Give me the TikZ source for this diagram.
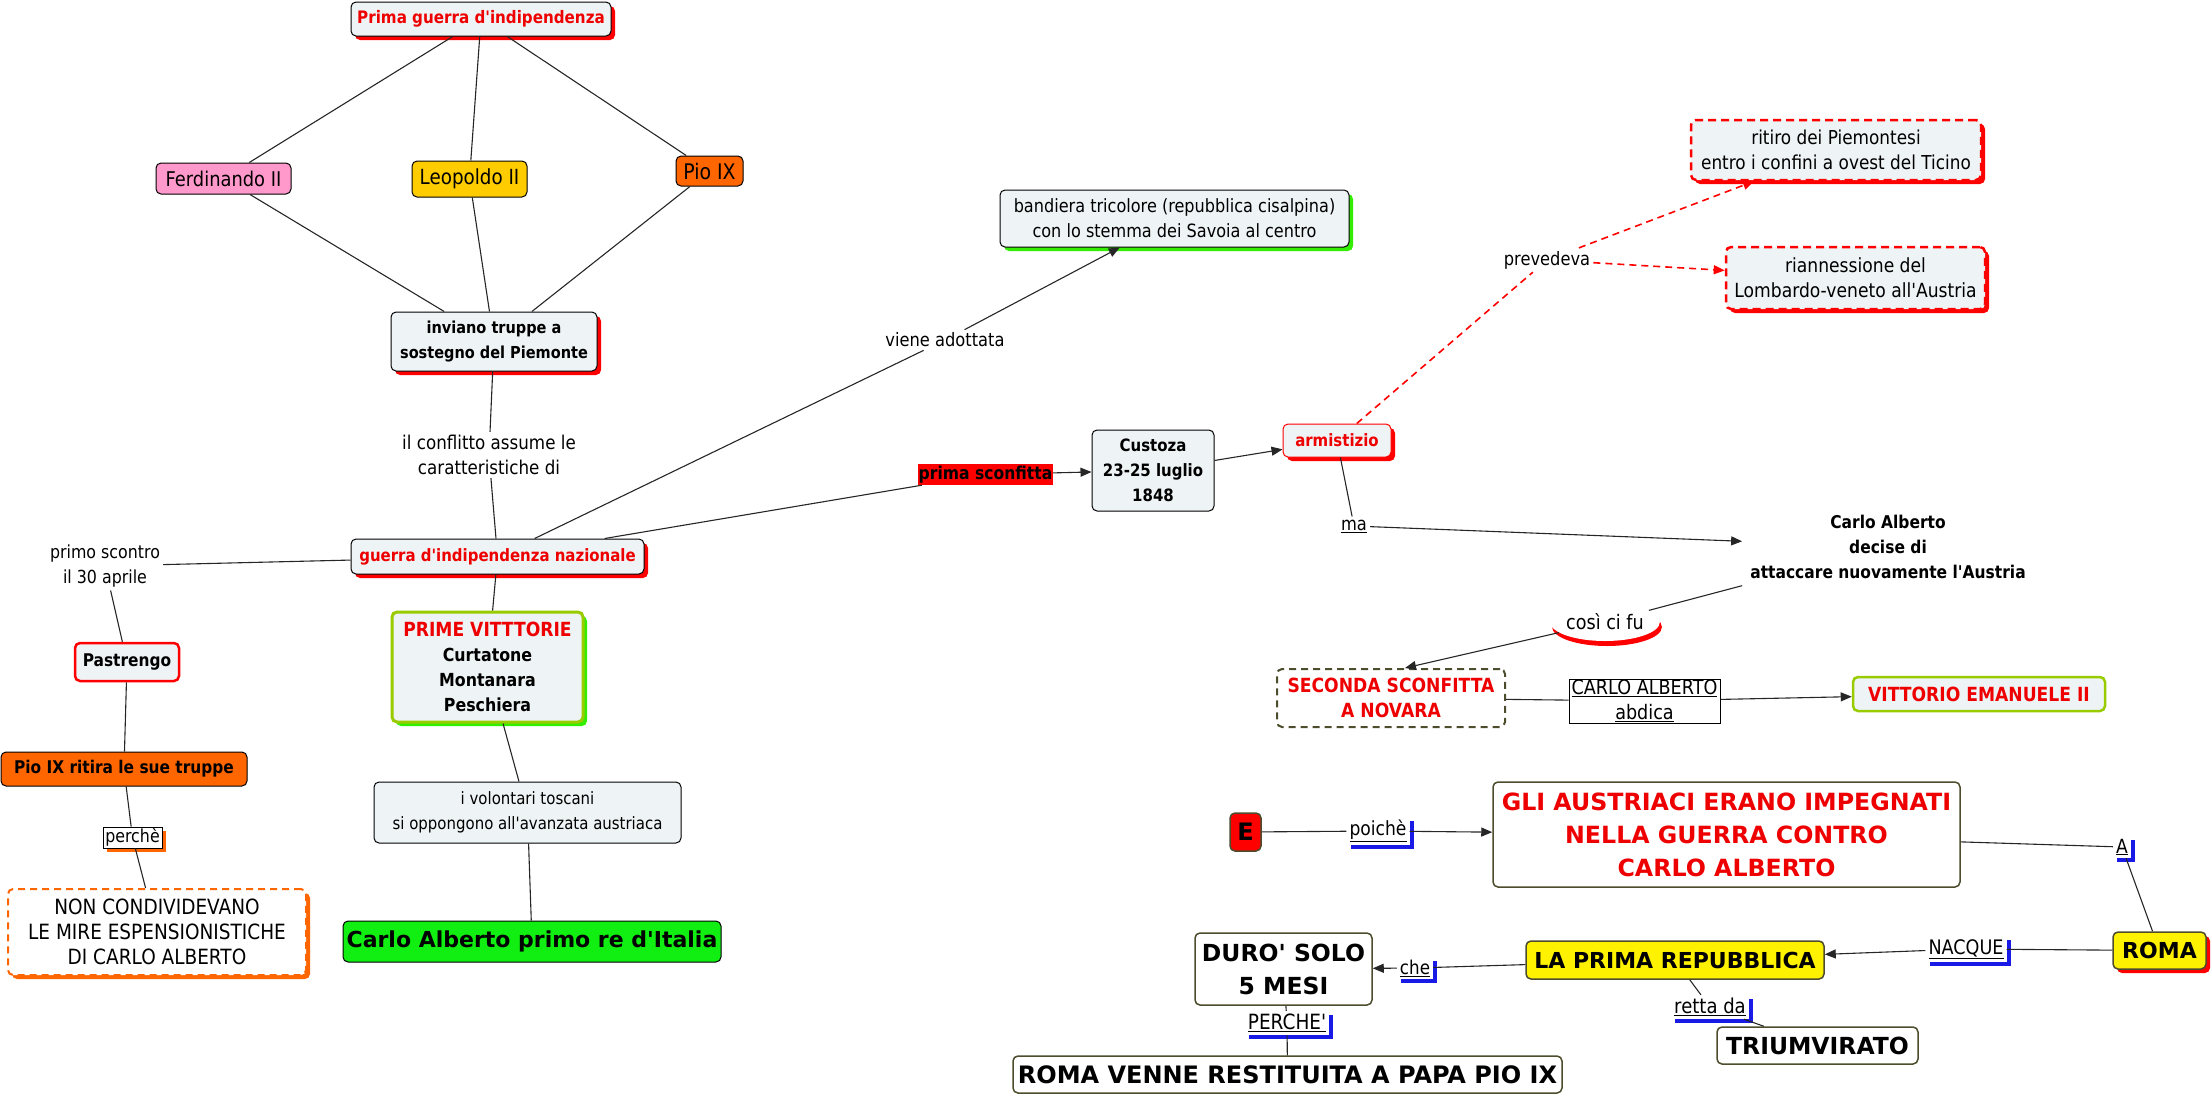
\documentclass[tikz,border=0pt]{standalone}
\usepackage{fontspec}
\setmainfont{DejaVu Sans}[FakeStretch=0.88, Ligatures=TeXOff]
\newfontfamily\bigf{DejaVu Sans}[Ligatures=TeXOff]
\usetikzlibrary{arrows.meta,shadows,shapes.geometric}
\definecolor{bg}{HTML}{EEF3F5}
\definecolor{pinkf}{HTML}{FF99CC}
\definecolor{goldf}{HTML}{FFCC00}
\definecolor{orangef}{HTML}{FF6600}
\definecolor{limeb}{HTML}{99CC00}
\definecolor{greens}{HTML}{33EE00}
\definecolor{greenf}{HTML}{11EE11}
\definecolor{olive}{HTML}{4D4D2E}
\definecolor{redc}{HTML}{EE0000}
\definecolor{bluec}{HTML}{1A1AE6}
\newcommand\fs[2]{\fontsize{#1}{#2}\selectfont}
\newcommand\bigtxt[1]{\bigf\bfseries\fontsize{#1}{33}\selectfont}
\tikzset{
  box/.style={rounded corners=5pt, draw=black, line width=1pt, fill=bg, align=center, inner sep=0pt, font=\fs{17}{25}},
  redsh/.style={drop shadow={shadow xshift=4pt,shadow yshift=-4pt,fill=red,opacity=1}},
  greensh/.style={drop shadow={shadow xshift=4pt,shadow yshift=-4pt,fill=greens,opacity=1}},
  orangesh/.style={drop shadow={shadow xshift=4pt,shadow yshift=-4pt,fill=orangef,opacity=1}},
  bluesh/.style={drop shadow={shadow xshift=4pt,shadow yshift=-4pt,fill=bluec,opacity=1}},
  lbl/.style={fill=white, inner sep=3pt, align=center, font=\fs{18.5}{25}},
  oliveb/.style={box, draw=olive, line width=1.5pt},
  conn/.style={line width=1.1pt, draw=black!85},
  arr/.style={conn, -{Triangle[length=11pt,width=9pt]}},
  rdash/.style={line width=1.6pt, draw=red, dash pattern=on 7pt off 5pt},
  rarr/.style={rdash, -{Triangle[length=11pt,width=9pt,fill=red]}},
}
\begin{document}
\begin{tikzpicture}[x=1pt,y=-1pt]
\useasboundingbox (0,0) rectangle (2212,1096);
% ---- left part
\node[box, redsh, minimum width=260pt, minimum height=34pt, text=redc, font=\fs{17.2}{25}\bfseries] (prima) at (481,19) {Prima guerra d'indipendenza};
\node[box, fill=pinkf, minimum width=135pt, minimum height=31pt, font=\fs{20.3}{25}] (ferd) at (223.5,178.5) {Ferdinando II};
\node[box, fill=goldf, minimum width=115pt, minimum height=36pt, font=\fs{20.8}{25}] (leop) at (469.5,179) {Leopoldo II};
\node[box, fill=orangef, minimum width=67pt, minimum height=30pt, font=\fs{21.5}{25}] (pio) at (709.5,171) {Pio IX};
\node[box, redsh, minimum width=206pt, minimum height=59pt, font=\fs{16.5}{25}\bfseries] (inviano) at (494,341.5) {inviano truppe a\\sostegno del Piemonte};
\node[lbl, font=\fs{19}{25}] (confl) at (489,455) {il conflitto assume le\\caratteristiche di};
\node[box, redsh, minimum width=293pt, minimum height=35pt, text=redc, font=\fs{17}{25}\bfseries] (guerra) at (497.5,556.5) {guerra d'indipendenza nazionale};
\node[lbl, font=\fs{18}{25}] (scontro) at (105,566) {primo scontro\\il 30 aprile};
\node[box, draw=red, line width=2.5pt, minimum width=104pt, minimum height=38pt, font=\fs{17.5}{25}\bfseries] (pastr) at (127,662) {Pastrengo};
\node[box, draw=limeb, line width=3pt, greensh, minimum width=191pt, minimum height=110pt, font=\fs{18}{25}\bfseries] (pv) at (487.5,667) {\textcolor{redc}{\fs{19.5}{25}PRIME VITTTORIE}\\Curtatone\\Montanara\\Peschiera};
\node[box, fill=orangef, minimum width=246pt, minimum height=34pt, font=\fs{17.5}{25}\bfseries] (ritira) at (124,769) {Pio IX ritira le sue truppe};
\node[box, rounded corners=0pt, fill=white, line width=0.8pt, orangesh, minimum width=59pt, minimum height=21pt, font=\fs{18}{25}] (perche) at (132.5,837.5) {perchè};
\node[box, fill=white, draw=orangef, line width=2pt, dash pattern=on 7pt off 5pt, orangesh, minimum width=298pt, minimum height=86pt, font=\fs{21}{25}] (noncond) at (157,932) {NON CONDIVIDEVANO\\LE MIRE ESPENSIONISTICHE\\DI CARLO ALBERTO};
\node[box, minimum width=307pt, minimum height=61pt, font=\fs{17}{25}] (volont) at (527.5,812.5) {i volontari toscani\\si oppongono all'avanzata austriaca};
\node[box, fill=greenf, minimum width=378pt, minimum height=41pt, font=\bigtxt{22}] (primore) at (532,941.5) {Carlo Alberto primo re d'Italia};
% ---- middle
\node[box, greensh, minimum width=349pt, minimum height=57pt, font=\fs{18.3}{25}] (bandiera) at (1174.5,218.5) {bandiera tricolore (repubblica cisalpina)\\con lo stemma dei Savoia al centro};
\node[lbl] (viene) at (945,340) {viene adottata};
\node[fill=red, inner sep=0pt, minimum width=135pt, minimum height=21pt, font=\fs{17.7}{25}\bfseries] (sconf) at (985.5,474.5) {prima sconfitta};
\node[box, minimum width=122pt, minimum height=81pt, font=\fs{17}{25}\bfseries] (custoza) at (1153,470.5) {Custoza\\23-25 luglio\\1848};
\node[box, draw=red, redsh, minimum width=108pt, minimum height=33pt, text=redc, font=\fs{17}{25}\bfseries] (armist) at (1337,440.5) {armistizio};
\node[lbl] (ma) at (1354,526) {\underline{ma}};
\node[lbl] (prevede) at (1547,260) {prevedeva};
\node[box, draw=red, line width=2.5pt, dash pattern=on 8pt off 5pt, redsh, minimum width=290pt, minimum height=60pt, font=\fs{19.2}{25}] (ritiro) at (1836,150) {ritiro dei Piemontesi\\entro i confini a ovest del Ticino};
\node[box, draw=red, line width=2.5pt, dash pattern=on 8pt off 5pt, redsh, minimum width=259pt, minimum height=62pt, font=\fs{19.5}{25}] (rian) at (1855.5,278) {riannessione del\\Lombardo-veneto all'Austria};
\node[align=center, inner sep=8pt, font=\fs{17.6}{25}\bfseries] (decise) at (1888,547) {Carlo Alberto\\decise di\\attaccare nuovamente l'Austria};
\node[ellipse, fill=white, inner sep=0pt, minimum width=90pt, minimum height=38pt, font=\fs{20}{25}, drop shadow={shadow xshift=2pt,shadow yshift=-5pt,fill=red,opacity=1}] (cosi) at (1605,622) {così ci fu};
\node[box, fill=white, draw=olive, line width=2pt, dash pattern=on 7pt off 5pt, minimum width=228pt, minimum height=58pt, text=redc, font=\fs{19.5}{25}\bfseries] (seconda) at (1391,698) {SECONDA SCONFITTA\\A NOVARA};
\node[draw=black, fill=white, line width=1pt, inner sep=0pt, minimum width=151pt, minimum height=44pt, align=center, font=\fs{20}{25}] (abdica) at (1644.5,701) {\underline{CARLO ALBERTO}\\\underline{abdica}};
\node[box, draw=limeb, line width=2.5pt, minimum width=252pt, minimum height=34pt, text=redc, font=\fs{19.5}{25}\bfseries] (vittorio) at (1979,694) {VITTORIO EMANUELE II};
% ---- bottom right
\node[oliveb, fill=red, minimum width=31pt, minimum height=38pt, font=\bigtxt{24}] (E) at (1245.5,832) {E};
\node[lbl, bluesh, font=\fs{19.5}{25}] (poiche) at (1378,831) {\underline{poichè}};
\node[oliveb, fill=white, minimum width=467pt, minimum height=105pt, text=redc, font=\bigtxt{23.7}] (gli) at (1726.5,834.5) {GLI AUSTRIACI ERANO IMPEGNATI\\NELLA GUERRA CONTRO\\CARLO ALBERTO};
\node[lbl, bluesh, font=\fs{19.5}{25}] (A) at (2122,847) {\underline{A}};
\node[oliveb, fill=yellow, redsh, minimum width=93pt, minimum height=37pt, font=\bigtxt{22}] (roma) at (2159.5,950.5) {ROMA};
\node[lbl, bluesh, font=\fs{20}{25}] (nacque) at (1966,949) {\underline{NACQUE}};
\node[oliveb, fill=yellow, minimum width=298pt, minimum height=38pt, font=\bigtxt{22}] (lpr) at (1675,960) {LA PRIMA REPUBBLICA};
\node[lbl, bluesh, font=\fs{19}{25}] (che) at (1415,968) {\underline{che}};
\node[oliveb, fill=white, minimum width=177pt, minimum height=72pt, font=\bigtxt{23.5}] (duro) at (1283.5,969) {DURO' SOLO\\5 MESI};
\node[lbl, bluesh, font=\fs{21}{25}] (percheb) at (1287,1023) {\underline{PERCHE'}};
\node[oliveb, fill=white, minimum width=549pt, minimum height=37pt, font=\bigtxt{24}] (romavenne) at (1287.5,1074.5) {ROMA VENNE RESTITUITA A PAPA PIO IX};
\node[lbl, bluesh, font=\fs{20.5}{25}] (retta) at (1710,1007) {\underline{retta da}};
\node[oliveb, fill=white, minimum width=201pt, minimum height=37pt, font=\bigtxt{23.5}] (trium) at (1817.5,1045.5) {TRIUMVIRATO};
% ---- connectors
\draw[conn] (prima) -- (ferd);
\draw[conn] (prima) -- (leop);
\draw[conn] (prima) -- (pio);
\draw[conn] (ferd) -- (inviano);
\draw[conn] (leop) -- (inviano);
\draw[conn] (pio) -- (inviano);
\draw[conn] (inviano) -- (confl);
\draw[conn] (confl) -- (guerra);
\draw[conn] (guerra) -- (scontro);
\draw[conn] (scontro) -- (pastr);
\draw[conn] (pastr) -- (ritira);
\draw[conn] (ritira) -- (perche);
\draw[conn] (perche) -- (noncond);
\draw[conn] (guerra) -- (pv);
\draw[conn] (pv) -- (volont);
\draw[conn] (volont) -- (primore);
\draw[conn] (guerra) -- (viene);
\draw[arr] (viene) -- (bandiera);
\draw[conn] (guerra) -- (sconf);
\draw[arr] (sconf) -- (custoza);
\draw[arr] (custoza) -- (armist);
\draw[rdash] (armist) -- (prevede);
\draw[rarr] (prevede) -- (ritiro);
\draw[rarr] (prevede) -- (rian);
\draw[conn] (armist) -- (ma);
\draw[arr] (ma) -- (decise);
\draw[conn] (decise) -- (cosi);
\draw[arr] (cosi) -- ([xshift=14pt]seconda.north);
\draw[conn] (seconda) -- (abdica);
\draw[arr] (abdica) -- (vittorio);
\draw[conn] (E) -- (poiche);
\draw[arr] (poiche) -- (gli);
\draw[conn] (gli) -- (A);
\draw[conn] (A) -- (roma);
\draw[conn] (roma) -- (nacque);
\draw[arr] (nacque) -- (lpr);
\draw[conn] (lpr) -- (che);
\draw[arr] (che) -- (duro);
\draw[conn] (duro) -- (percheb);
\draw[conn] (percheb) -- (romavenne);
\draw[conn] (lpr) -- (retta);
\draw[conn] (retta) -- (trium);
\end{tikzpicture}
\end{document}
